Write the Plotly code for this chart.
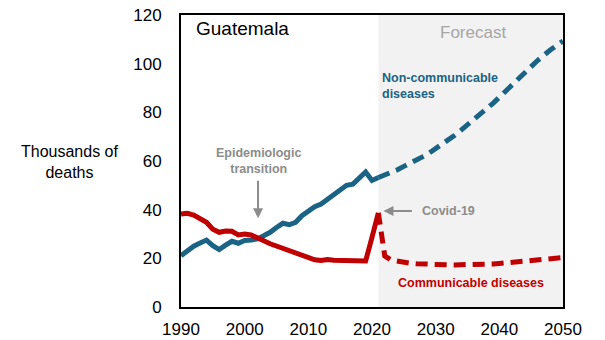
import plotly.graph_objects as go

# Historical data (thousands of deaths)
hist_years = list(range(1990, 2022))
ncd_hist = [21.1, 23.2, 25.0, 26.3, 27.5, 25.2, 23.6, 25.4, 27.0, 26.2,
            27.3, 27.5, 28.0, 29.3, 30.7, 32.7, 34.4, 33.8, 34.8, 37.5,
            39.6, 41.2, 42.3, 44.3, 46.4, 48.2, 50.0, 50.5, 52.8, 55.5,
            52.0, 53.2]
cd_hist = [38.2, 38.5, 37.8, 36.1, 34.8, 32.0, 30.7, 31.2, 31.1, 29.6,
           30.0, 29.6, 28.6, 27.2, 26.0, 25.0, 23.9, 22.9, 22.1, 21.1,
           20.2, 19.4, 19.1, 19.5, 19.2, 19.1, 19.0, 18.8, 18.8, 18.9,
           28.6, 38.7]

# Forecast data
fc_years = list(range(2021, 2051))
ncd_fc = [53.2, 54.2, 55.2, 56.4, 57.8, 59.0, 60.3, 61.8, 63.3, 65.0,
          66.8, 68.7, 70.6, 72.7, 74.8, 77.0, 79.2, 81.4, 83.7, 86.2,
          88.6, 91.2, 93.7, 96.2, 98.8, 101.3, 103.6, 105.6, 107.5, 109.3]
cd_fc = [38.7, 21.0, 19.3, 18.7, 18.3, 18.0, 17.8, 17.6, 17.5, 17.4,
         17.3, 17.3, 17.3, 17.3, 17.3, 17.3, 17.4, 17.5, 17.7, 17.9,
         18.1, 18.3, 18.6, 18.8, 19.1, 19.3, 19.6, 19.8, 20.1, 20.3]

x_ticks = [1990, 2000, 2010, 2020, 2030, 2040, 2050]
y_ticks = [0, 20, 40, 60, 80, 100, 120]

BLUE = "#1A6384"
RED = "#C00000"
GRAY = "#8C8C8C"
FONT = "Liberation Sans"

plot_l, plot_r, plot_t, plot_b = 181, 563, 15, 307

fig = go.Figure()

fig.add_shape(type="rect", xref="x", yref="paper", x0=2021, x1=2050, y0=0, y1=1,
              fillcolor="#F2F2F2", line=dict(width=0), layer="below")

fig.add_trace(go.Scatter(x=hist_years, y=ncd_hist, mode="lines",
                         line=dict(color=BLUE, width=5), hoverinfo="skip"))
fig.add_trace(go.Scatter(x=hist_years, y=cd_hist, mode="lines",
                         line=dict(color=RED, width=5), hoverinfo="skip"))
fig.add_trace(go.Scatter(x=fc_years, y=ncd_fc, mode="lines",
                         line=dict(color=BLUE, width=5, dash="12px,7px"), hoverinfo="skip"))
fig.add_trace(go.Scatter(x=fc_years, y=cd_fc, mode="lines",
                         line=dict(color=RED, width=5, dash="12px,7px"), hoverinfo="skip"))

ann = []
ann.append(dict(x=1992, y=120, xref="x", yref="y", text="Guatemala", showarrow=False,
                xanchor="left", yanchor="top", yshift=-1,
                font=dict(family=FONT, size=19, color="black")))
ann.append(dict(x=2035.9, y=120, xref="x", yref="y", text="Forecast", showarrow=False,
                xanchor="center", yanchor="top", yshift=-6,
                font=dict(family=FONT, size=17, color="#A6A6A6")))
ann.append(dict(x=2021.2, y=91, xref="x", yref="y",
                text="<b>Non-communicable<br>diseases</b>", showarrow=False,
                xanchor="left", yanchor="middle", align="left",
                font=dict(family=FONT, size=12.5, color=BLUE)))
ann.append(dict(x=2002.1, y=60, xref="x", yref="y",
                text="<b>Epidemiologic<br>transition</b>", showarrow=False,
                xanchor="center", yanchor="middle", align="center",
                font=dict(family=FONT, size=12.5, color=GRAY)))
ann.append(dict(x=2002.1, y=36.5, ax=2002.1, ay=52.5, xref="x", yref="y",
                axref="x", ayref="y", text="", showarrow=True, arrowhead=2,
                arrowsize=1, arrowwidth=2, arrowcolor=GRAY))
ann.append(dict(x=2021.8, y=39.5, ax=2026.5, ay=39.5, xref="x", yref="y",
                axref="x", ayref="y", text="", showarrow=True, arrowhead=2,
                arrowsize=1, arrowwidth=2, arrowcolor=GRAY))
ann.append(dict(x=2027.5, y=39.5, xref="x", yref="y", text="<b>Covid-19</b>",
                showarrow=False, xanchor="left", yanchor="middle",
                font=dict(family=FONT, size=12.5, color=GRAY)))
ann.append(dict(x=2035.6, y=10, xref="x", yref="y", text="<b>Communicable diseases</b>",
                showarrow=False, xanchor="center", yanchor="middle",
                font=dict(family=FONT, size=12.5, color=RED)))
ann.append(dict(x=(70 - plot_l) / (plot_r - plot_l), y=(plot_b - 162) / (plot_b - plot_t),
                xref="paper", yref="paper", text="Thousands of<br>deaths",
                showarrow=False, xanchor="center", yanchor="middle", align="center",
                font=dict(family=FONT, size=16, color="black")))

fig.update_layout(
    width=605, height=340,
    margin=dict(l=plot_l, r=605 - plot_r, t=plot_t, b=340 - plot_b, autoexpand=False),
    paper_bgcolor="white", plot_bgcolor="white",
    showlegend=False,
    annotations=ann,
    font=dict(family=FONT, size=16, color="black"),
    xaxis=dict(range=[1990, 2050], tickvals=x_ticks, ticktext=[str(v) for v in x_ticks],
               showgrid=False, zeroline=False, showline=True, linecolor="black",
               linewidth=2, mirror=True, ticks="", ticklabelstandoff=6, automargin=False,
               tickfont=dict(family=FONT, size=17, color="black")),
    yaxis=dict(range=[0, 120], tickvals=y_ticks, ticktext=[str(v) for v in y_ticks],
               showgrid=False, zeroline=False, showline=True, linecolor="black",
               linewidth=2, mirror=True, ticks="", ticklabelstandoff=14, automargin=False,
               tickfont=dict(family=FONT, size=17, color="black")),
)

fig.write_html("out.html")
